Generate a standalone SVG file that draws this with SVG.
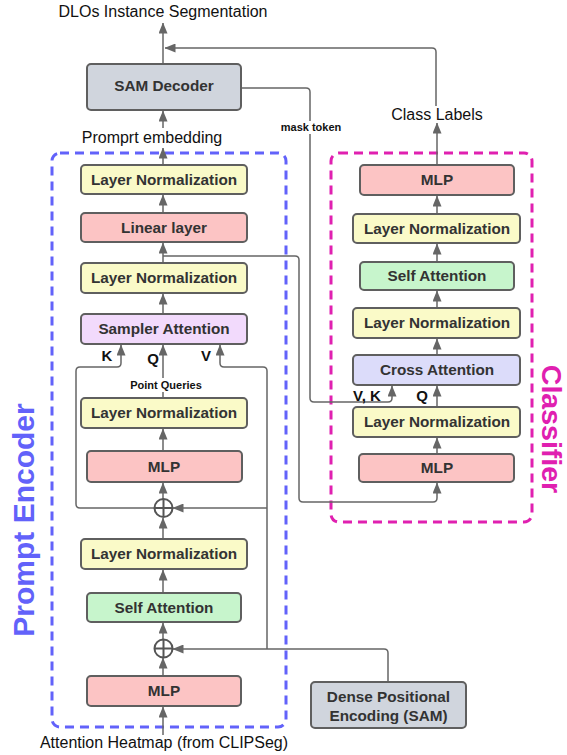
<svg xmlns="http://www.w3.org/2000/svg" width="567" height="755" viewBox="0 0 567 755">
<defs>
<marker id="ah" viewBox="0 0 11 9" refX="10.5" refY="4.5" markerWidth="11" markerHeight="9" markerUnits="userSpaceOnUse" orient="auto">
<path d="M0,0 L11,4.5 L0,9 z" fill="#666"/>
</marker>
</defs>
<style>
.box{stroke:#5f5f5f;stroke-width:2}
.ln{fill:#fafac8}
.red{fill:#fcc4c4}
.grn{fill:#c7f5cc}
.pur{fill:#f2dafc}
.blu{fill:#dcdcfa}
.gry{fill:#d0d5dd}
.bt{font-family:"Liberation Sans",Arial,sans-serif;font-weight:bold;font-size:15.3px;fill:#333;text-anchor:middle}
.nt{font-family:"Liberation Sans",Arial,sans-serif;font-size:16px;fill:#111;text-anchor:middle}
.st{font-family:"Liberation Sans",Arial,sans-serif;font-weight:bold;font-size:11px;fill:#111;text-anchor:middle}
.lb{font-family:"Liberation Sans",Arial,sans-serif;font-weight:bold;font-size:15px;fill:#111;text-anchor:middle}
.c{fill:none;stroke:#666;stroke-width:1.5}
.a{marker-end:url(#ah)}
.sum{fill:#fff;stroke:#555;stroke-width:2}
</style>

<g id="groups">
<rect id="prompt-encoder-box" x="52" y="153" width="234" height="574" rx="8" fill="none" stroke="#6262fa" stroke-width="3" stroke-dasharray="9,6"/>
<rect id="classifier-box" x="331" y="153" width="201" height="369" rx="8" fill="none" stroke="#e020b0" stroke-width="3" stroke-dasharray="9,6"/>
<text x="23" y="520" transform="rotate(-90 23 520)" font-family="'Liberation Sans',Arial,sans-serif" font-weight="bold" font-size="30" fill="#6262fa" text-anchor="middle" dominant-baseline="central">Prompt Encoder</text>
<text x="542" y="429" transform="rotate(90 542 429)" font-family="'Liberation Sans',Arial,sans-serif" font-weight="bold" font-size="28.5" fill="#e020b0" text-anchor="middle">Classifier</text>
</g>

<g id="connectors">
<path class="c a" d="M163,63 L163,23"/>
<path class="c a" d="M436,106 L436,52 Q436,48 432,48 L165,48"/>
<path class="c a" d="M241,88 L306,88 Q310,88 310,92 L310,398 Q310,402 314,402 L388,402 Q392,402 392,398 L392,386"/>
<path class="c a" d="M163,128 L163,111"/>
<path class="c a" d="M163,165 L163,148"/>
<path class="c a" d="M163,213 L163,195"/>
<path class="c a" d="M163,263 L163,243"/>
<path class="c a" d="M163,256 L295,256 Q299,256 299,260 L299,498 Q299,502 303,502 L433,502 Q437,502 437,498 L437,483"/>
<path class="c a" d="M163,314 L163,294"/>
<path class="c" d="M163,398 L163,392"/>
<path class="c a" d="M163,378 L163,345"/>
<path class="c a" d="M154,508 L80,508 Q76,508 76,504 L76,371 Q76,367 80,367 L117,367 Q121,367 121,363 L121,345"/>
<path class="c a" d="M267,649 L267,371 Q267,367 263,367 L224,367 Q220,367 220,363 L220,345"/>
<path class="c a" d="M267,508 L173,508"/>
<path class="c a" d="M388,682 L388,653 Q388,649 384,649 L173,649"/>
<path class="c a" d="M163,451 L163,429"/>
<path class="c a" d="M163,499 L163,483"/>
<path class="c a" d="M163,539 L163,518"/>
<path class="c a" d="M163,593 L163,570"/>
<path class="c a" d="M163,639 L163,623"/>
<path class="c a" d="M163,676 L163,658"/>
<path class="c a" d="M163,735 L163,707"/>
<path class="c a" d="M437,165 L437,123"/>
<path class="c a" d="M437,214 L437,196"/>
<path class="c a" d="M437,262 L437,244"/>
<path class="c a" d="M437,308 L437,291"/>
<path class="c a" d="M437,355 L437,339"/>
<path class="c a" d="M437,407 L437,386"/>
<path class="c a" d="M437,454 L437,438"/>
<rect x="279" y="121" width="63" height="13" fill="#fff"/>
<text class="st" x="311" y="131">mask token</text>
<text class="st" x="166" y="389">Point Queries</text>
<text class="lb" x="107" y="361">K</text>
<text class="lb" x="153" y="364">Q</text>
<text class="lb" x="206" y="361">V</text>
<text class="lb" x="367" y="401">V, K</text>
<text class="lb" x="422" y="401">Q</text>
</g>

<g id="labels">
<text class="nt" x="163" y="17">DLOs Instance Segmentation</text>
<text class="nt" x="152" y="143">Promprt embedding</text>
<text class="nt" x="437" y="120">Class Labels</text>
<text class="nt" x="164" y="748">Attention Heatmap (from CLIPSeg)</text>
</g>

<g id="sam-decoder"><rect class="box gry" x="87" y="64" width="154" height="46" rx="4"/><text class="bt" x="164" y="91">SAM Decoder</text></g>

<g id="pe-ln1"><rect class="box ln" x="81" y="165" width="166" height="29" rx="4"/><text class="bt" x="164" y="185">Layer Normalization</text></g>
<g id="pe-linear"><rect class="box red" x="81" y="213" width="166" height="29" rx="4"/><text class="bt" x="164" y="233">Linear layer</text></g>
<g id="pe-ln2"><rect class="box ln" x="81" y="263" width="166" height="30" rx="4"/><text class="bt" x="164" y="283">Layer Normalization</text></g>
<g id="pe-sampler"><rect class="box pur" x="81" y="314" width="166" height="30" rx="4"/><text class="bt" x="164" y="334">Sampler Attention</text></g>
<g id="pe-ln3"><rect class="box ln" x="81" y="398" width="166" height="30" rx="4"/><text class="bt" x="164" y="418">Layer Normalization</text></g>
<g id="pe-mlp2"><rect class="box red" x="87" y="451" width="155" height="31" rx="4"/><text class="bt" x="164" y="472">MLP</text></g>
<g id="pe-sum2"><circle class="sum" cx="163.5" cy="508" r="9"/><path d="M154.5,508 H172.5 M163.5,499 V517" stroke="#555" stroke-width="2"/></g>
<g id="pe-ln4"><rect class="box ln" x="81" y="539" width="166" height="30" rx="4"/><text class="bt" x="164" y="559">Layer Normalization</text></g>
<g id="pe-self"><rect class="box grn" x="87" y="593" width="154" height="29" rx="4"/><text class="bt" x="164" y="613">Self Attention</text></g>
<g id="pe-sum1"><circle class="sum" cx="163.5" cy="648.5" r="9"/><path d="M154.5,648.5 H172.5 M163.5,639.5 V657.5" stroke="#555" stroke-width="2"/></g>
<g id="pe-mlp1"><rect class="box red" x="87" y="676" width="154" height="30" rx="4"/><text class="bt" x="164" y="696">MLP</text></g>

<g id="dense-pe"><rect class="box gry" x="311" y="682" width="155" height="46" rx="4"/><text class="bt" x="388.5" y="702">Dense Positional</text><text class="bt" x="388.5" y="721">Encoding (SAM)</text></g>

<g id="cl-mlp-top"><rect class="box red" x="360" y="165" width="154" height="30" rx="4"/><text class="bt" x="437" y="185">MLP</text></g>
<g id="cl-ln1"><rect class="box ln" x="353" y="214" width="167" height="29" rx="4"/><text class="bt" x="437" y="234">Layer Normalization</text></g>
<g id="cl-self"><rect class="box grn" x="360" y="262" width="154" height="28" rx="4"/><text class="bt" x="437" y="281">Self Attention</text></g>
<g id="cl-ln2"><rect class="box ln" x="353" y="308" width="167" height="30" rx="4"/><text class="bt" x="437" y="328">Layer Normalization</text></g>
<g id="cl-cross"><rect class="box blu" x="353" y="355" width="167" height="30" rx="4"/><text class="bt" x="437" y="375">Cross Attention</text></g>
<g id="cl-ln3"><rect class="box ln" x="353" y="407" width="167" height="30" rx="4"/><text class="bt" x="437" y="427">Layer Normalization</text></g>
<g id="cl-mlp"><rect class="box red" x="359" y="454" width="155" height="28" rx="4"/><text class="bt" x="437" y="473">MLP</text></g>
</svg>
